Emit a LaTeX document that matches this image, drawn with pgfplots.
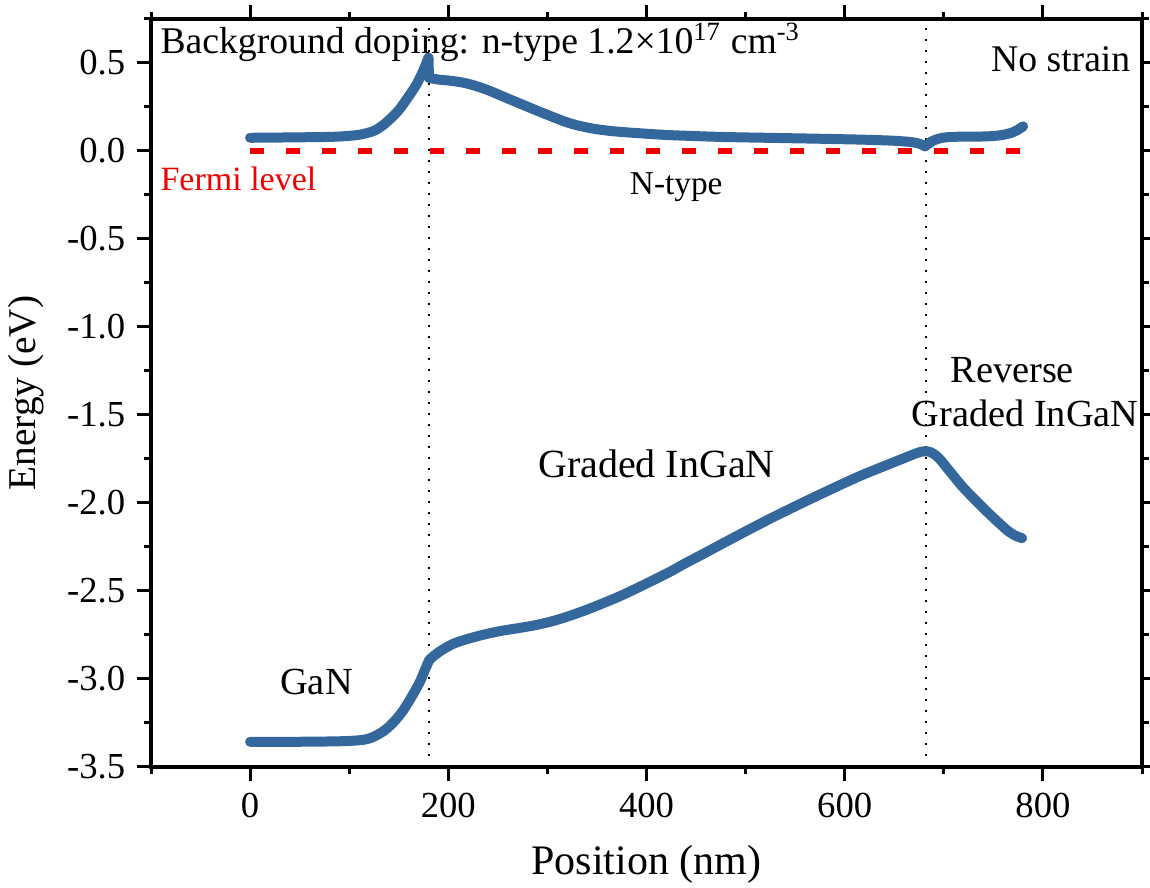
\documentclass[border=0pt]{standalone}
\usepackage{fontspec}
\setmainfont{Liberation Serif}
\newfontfamily\tnr{Liberation Serif}
\usepackage{pgfplots}
\pgfplotsset{compat=1.18}

\definecolor{bandblue}{RGB}{52,103,155}
\definecolor{fermired}{RGB}{238,0,0}

\begin{document}
\begin{tikzpicture}[every node/.style={font=\tnr}]
\begin{axis}[
  scale only axis,
  width=297.3pt, height=224.4pt,
  xmin=-100, xmax=900, ymin=-3.5, ymax=0.75,
  xtick={0,200,400,600,800},
  xticklabels={0,200,400,600,800},
  minor xtick={-100,100,300,500,700,900},
  ytick={-3.5,-3,-2.5,-2,-1.5,-1,-0.5,0,0.5},
  yticklabels={-3.5,-3.0,-2.5,-2.0,-1.5,-1.0,-0.5,0.0,0.5},
  minor ytick={-3.25,-2.75,-2.25,-1.75,-1.25,-0.75,-0.25,0.25,0.75},
  tick align=outside,
  major tick length=4.2pt, minor tick length=2.1pt,
  every tick/.style={black, line width=0.9pt},
  axis line style={line width=1pt},
  ticklabel style={font=\tnr\fontsize{11}{13}\selectfont},
  xlabel={Position (nm)}, ylabel={Energy (eV)},
  xlabel style={font=\tnr\fontsize{12.6}{14}\selectfont, yshift=-1.5pt},
  ylabel style={font=\tnr\fontsize{11.8}{14}\selectfont},
  clip=false,
]

% layer boundaries
\addplot[black, line width=0.6pt, dash pattern=on 0.6pt off 2.7pt] coordinates {(181,-3.5) (181,0.75)};
\addplot[black, line width=0.6pt, dash pattern=on 0.6pt off 2.7pt] coordinates {(682,-3.5) (682,0.75)};

% Fermi level
\addplot[fermired, line width=2pt, dash pattern=on 4.2pt off 6.6pt] coordinates {(0,0) (780,0)};

% conduction band
\addplot[bandblue, line width=3pt, smooth, line join=round, line cap=round] coordinates {
  (0,0.075) (40,0.077) (80,0.080) (95,0.084) (110,0.092) (124,0.112)
  (133,0.142) (141,0.180) (150,0.232) (157.5,0.290) (167.6,0.375) (175,0.460) (180,0.530)
};
\addplot[bandblue, line width=3pt, line join=round, line cap=round] coordinates {
  (180,0.530) (180.5,0.415)
};
\addplot[bandblue, line width=3pt, smooth, line join=round, line cap=round] coordinates {
  (180.5,0.415) (191,0.405) (204,0.398) (220,0.382) (238,0.350) (255,0.310) (272,0.270)
  (290,0.228) (306,0.192) (318,0.166) (330,0.146) (345,0.128) (360,0.116) (375,0.108)
  (400,0.098) (424,0.090) (474,0.080) (520,0.075) (570,0.070) (620,0.064)
  (650,0.058) (668,0.050) (676,0.040) (681,0.026)
};
\addplot[bandblue, line width=3pt, smooth, line join=round, line cap=round] coordinates {
  (681,0.026) (688,0.055) (695,0.070) (703,0.078) (720,0.082) (737,0.082)
  (750,0.085) (760,0.092) (768,0.103) (774,0.118) (780,0.140)
};

% valence band
\addplot[bandblue, line width=3pt, smooth, line join=round, line cap=round] coordinates {
  (0,-3.357) (40,-3.357) (80,-3.355) (100,-3.352) (115,-3.345) (124,-3.330)
  (135,-3.295) (144,-3.250) (153,-3.190) (161,-3.120) (171,-3.020) (177,-2.940) (181,-2.890)
};
\addplot[bandblue, line width=3pt, smooth, line join=round, line cap=round] coordinates {
  (181,-2.890) (191,-2.845) (205,-2.800) (221,-2.770) (238,-2.745) (255,-2.725)
  (272,-2.710) (289,-2.693) (306,-2.670) (322,-2.642) (339,-2.608) (356,-2.570)
  (373,-2.530) (390,-2.485) (407,-2.438) (424,-2.390) (440,-2.340) (457,-2.290)
  (492,-2.185) (528,-2.080) (570,-1.965) (612,-1.855) (640,-1.790) (660,-1.745)
  (672,-1.718) (680,-1.706) (687,-1.712) (695,-1.745) (706,-1.820) (720,-1.915)
  (740,-2.030) (755,-2.110) (765,-2.160) (772,-2.185) (779,-2.200)
};

% annotations
\node[anchor=base west, inner sep=0pt, font=\tnr\fontsize{11.3}{13}\selectfont]
  at (axis cs:-91,0.555) {Background doping: n-type 1.2×10\textsuperscript{17} cm\textsuperscript{-3}};
\node[anchor=base, inner sep=0pt, font=\tnr\fontsize{11.3}{13}\selectfont]
  at (axis cs:818,0.45) {No strain};
\node[anchor=base west, inner sep=0pt, text=fermired, font=\tnr\fontsize{10.2}{12}\selectfont]
  at (axis cs:-91,-0.222) {Fermi level};
\node[anchor=base, inner sep=0pt, font=\tnr\fontsize{10}{12}\selectfont]
  at (axis cs:430,-0.25) {N-type};
\node[anchor=base, inner sep=0pt, font=\tnr\fontsize{11.5}{13}\selectfont]
  at (axis cs:769,-1.318) {Reverse};
\node[anchor=base, inner sep=0pt, font=\tnr\fontsize{11.5}{13}\selectfont]
  at (axis cs:782,-1.568) {Graded InGaN};
\node[anchor=base, inner sep=0pt, font=\tnr\fontsize{12}{13}\selectfont]
  at (axis cs:410,-1.856) {Graded InGaN};
\node[anchor=base, inner sep=0pt, font=\tnr\fontsize{11.5}{13}\selectfont]
  at (axis cs:67,-3.087) {GaN};
\end{axis}
% page frame around the axis and its labels
\pgfresetboundingbox
\path[use as bounding box]
  ([shift={(-45.3pt,-36.3pt)}]current axis.south west)
  rectangle ([shift={(2.4pt,5.7pt)}]current axis.north east);
\end{tikzpicture}
\end{document}
